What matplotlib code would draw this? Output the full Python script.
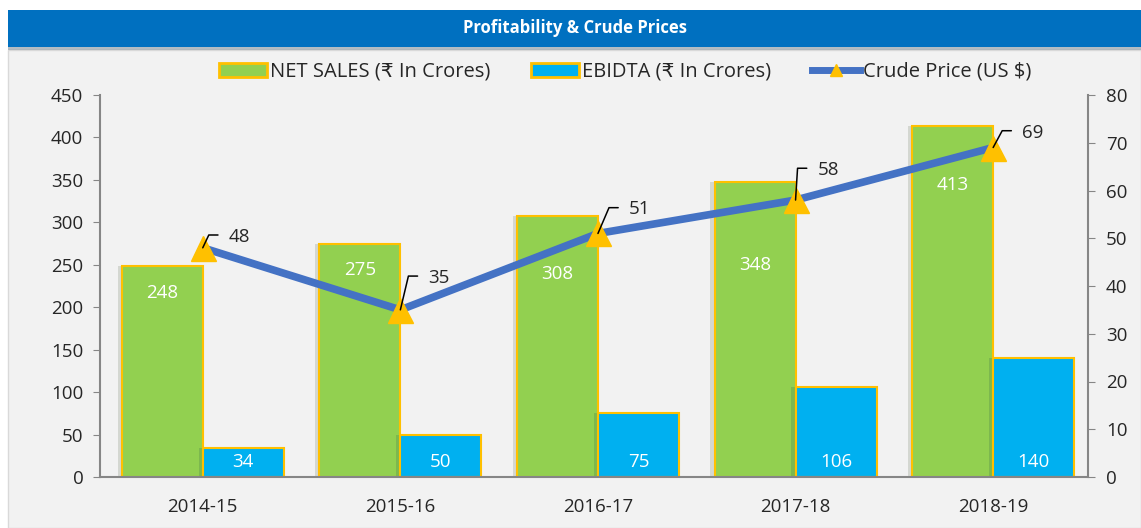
import matplotlib
matplotlib.use("Agg")
import matplotlib.pyplot as plt
import matplotlib.patheffects as pe
from matplotlib.patches import Rectangle, Patch
from matplotlib.lines import Line2D
import numpy as np

categories = ["2014-15", "2015-16", "2016-17", "2017-18", "2018-19"]
net_sales = [248, 275, 308, 348, 413]
ebidta = [34, 50, 75, 106, 140]
crude = [48, 35, 51, 58, 69]

# label placement (style only)
net_label_drop = [19, 19, 42, 60, 42]          # points below bar top
crude_label_dx = [26, 28, 31, 22, 29]          # px right of point
crude_label_dy = [11, 32, 24, 30, 15]          # px above point

plt.rcParams['font.family'] = ['Open Sans', 'DejaVu Sans']

fig = plt.figure(figsize=(11.41, 5.28), dpi=100)
fig.patch.set_facecolor("white")

# panel background
fig.patches.append(Rectangle((8/1141, 0), 1 - 8/1141, 1 - 50/528, transform=fig.transFigure,
                             facecolor="#F2F2F2", edgecolor="#D9D9D9", lw=1, zorder=-3))
# title bar
fig.patches.append(Rectangle((8/1141, 1 - 47/528), 1 - 8/1141, 37/528, transform=fig.transFigure,
                             facecolor="#0070C0", edgecolor="none", zorder=-2,
                             path_effects=[pe.SimplePatchShadow(offset=(0, -2), alpha=0.3), pe.Normal()]))
fig.text(575/1141, 1 - 28/528, "Profitability & Crude Prices", color="white", fontsize=12,
         fontweight="bold", ha="center", va="center", family=['Open Sans', 'DejaVu Sans'])

ax = fig.add_axes([100/1141, 51/528, 988/1141, 382/528])
ax.set_facecolor("none")
ax2 = ax.twinx()
ax2.set_facecolor("none")

x = np.arange(len(categories))
w = 0.41
shadow = [pe.SimplePatchShadow(offset=(-3, 0), alpha=0.15), pe.Normal()]
b1 = ax.bar(x - w/2, net_sales, w, color="#92D050", edgecolor="#FFC000", lw=1.5, zorder=2,
            path_effects=shadow)
b2 = ax.bar(x + w/2, ebidta, w, color="#00B0F0", edgecolor="#FFC000", lw=1.5, zorder=2,
            path_effects=shadow)

for rect, v, d in zip(b1, net_sales, net_label_drop):
    ax.annotate(str(v), xy=(rect.get_x() + rect.get_width()/2, v), xytext=(0, -d),
                textcoords="offset points", ha="center", va="center", color="white", fontsize=13.5)
for rect, v in zip(b2, ebidta):
    ax.annotate(str(v), xy=(rect.get_x() + rect.get_width()/2, 0), xytext=(0, 11),
                textcoords="offset points", ha="center", va="center", color="white", fontsize=13.5)

ax.set_ylim(0, 450)
ax.set_yticks(range(0, 451, 50))
ax.set_xlim(-0.52, 4.48)
ax.set_xticks(x)
ax.set_xticklabels(categories)

ax2.plot(x, crude, color="#4472C4", lw=5.5, zorder=3, solid_capstyle="butt")
ax2.plot(x, crude, ls="none", marker="^", ms=18, color="#FFC000", markeredgecolor="#FFC000", zorder=4)
ax2.set_ylim(0, 80)
ax2.set_yticks(range(0, 81, 10))

px2pt = 72 / 100
for i, v in enumerate(crude):
    dx, dy = crude_label_dx[i], crude_label_dy[i]
    cdx, cdy = dx - 20, dy + 1.7
    angB = np.degrees(np.arctan2(cdy, max(cdx, 0.5)))
    ax2.annotate(str(v), xy=(i, v), xytext=(dx * px2pt, dy * px2pt), textcoords="offset points",
                 ha="left", va="center", fontsize=13.5, color="#262626", zorder=5,
                 arrowprops=dict(arrowstyle="-", color="black", lw=1.1, shrinkA=8 * px2pt, shrinkB=0,
                                 relpos=(0, 0.6),
                                 connectionstyle=f"angle,angleA=180,angleB={angB:.1f},rad=0"))

for a in (ax, ax2):
    a.spines["top"].set_visible(False)
    a.tick_params(labelsize=13.5, colors="#262626", length=5, color="#868686", pad=7)
ax.spines["right"].set_visible(False)
ax2.spines["left"].set_visible(False)
ax2.spines["bottom"].set_visible(False)
for s in ("left", "bottom"):
    ax.spines[s].set_color("#868686")
    ax.spines[s].set_linewidth(1.5)
ax2.spines["right"].set_color("#868686")
ax2.spines["right"].set_linewidth(1.5)
ax2.tick_params(pad=8)
ax.tick_params(axis="x", length=0, pad=15)

handles = [Patch(facecolor="#92D050", edgecolor="#FFC000", lw=2),
           Patch(facecolor="#00B0F0", edgecolor="#FFC000", lw=2),
           Line2D([0], [0], color="#4472C4", lw=5, marker="^", ms=8, markerfacecolor="#FFC000",
                  markeredgecolor="#FFC000")]
labels = ["NET SALES (₹ In Crores)", "EBIDTA (₹ In Crores)", "Crude Price (US $)"]
fig.legend(handles, labels, loc="center", bbox_to_anchor=(625/1141, 1 - 72/528), ncol=3,
           frameon=False, fontsize=14.5, handlelength=2.4, handleheight=0.75, columnspacing=2.0,
           handletextpad=0.15, labelcolor="#262626")

fig.savefig("out.png", dpi=100, facecolor=fig.get_facecolor())
